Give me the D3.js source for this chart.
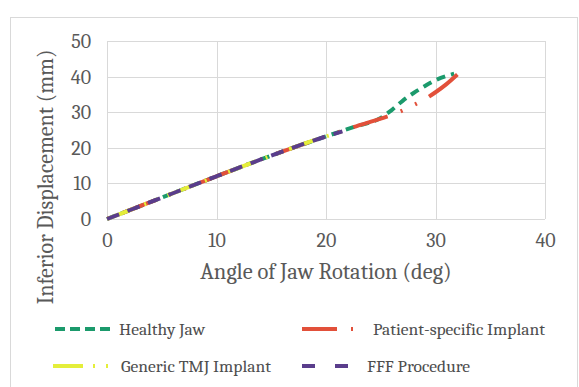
<!DOCTYPE html>
<html>
<head>
<meta charset="utf-8">
<script src="https://cdn.jsdelivr.net/npm/d3@7"></script>
<style>
  html, body { margin: 0; padding: 0; background: #fff; }
  svg { display: block; }
</style>
</head>
<body>
<svg id="chart" width="579" height="387"></svg>
<script>
// series data: [angle deg, displacement mm]
const healthyJaw = [[0, 0], [5, 6], [10, 12], [15, 17.8], [20, 23.2], [22.5, 25.8], [25, 28.4],
  [26, 30.6], [27, 33.2], [28, 35.4], [29, 37.3], [30, 39], [31, 40.2], [31.7, 40.8]];
const patientImplant = [[0, 0], [5, 6], [10, 12], [15, 17.8], [20, 23.2], [22.5, 25.8], [25, 28.2],
  [26, 29.2], [27, 30.5], [28, 32], [29, 33.6], [30, 35.6], [31, 37.9], [32, 40.6]];
const genericImplant = [[0, 0], [5, 6], [10, 12], [15, 17.8], [20, 23.2], [21.5, 24.6]];
const fffProcedure = [[0, 0], [5, 6], [10, 12], [15, 17.8], [20, 23.2], [21.5, 24.6]];

const xTicks = [0, 10, 20, 30, 40];
const yTicks = [0, 10, 20, 30, 40, 50];

const seriesNames = ['Healthy Jaw', 'Patient-specific Implant', 'Generic TMJ Implant', 'FFF Procedure'];
const seriesData = [healthyJaw, patientImplant, genericImplant, fffProcedure];
const seriesColors = ['#1b9a6c', '#e2503a', '#e4ee3a', '#5a3d8c'];
const seriesDash = ['10,5', '35,14,2,14', '30,10,2,11,2,10', '13,20'];
const plotDash = ['9,6', '36,14,2,14,2,14', '30,10,2,11,2,10', '13,9'];

const font = '"Cambria", "Liberation Serif", monospace';
const textColor = '#595959';
const svg = d3.select('#chart');

// outer chart frame
svg.append('rect')
  .attr('x', 10.5).attr('y', 17.5)
  .attr('width', 567).attr('height', 372)
  .attr('fill', 'none').attr('stroke', '#d9d9d9');

const x = d3.scaleLinear().domain([0, 40]).range([107, 545]);
const y = d3.scaleLinear().domain([0, 50]).range([219, 41]);

// gridlines
svg.append('g').selectAll('line').data(yTicks).join('line')
  .attr('x1', x(0)).attr('x2', x(40))
  .attr('y1', d => Math.round(y(d)) + 0.5).attr('y2', d => Math.round(y(d)) + 0.5)
  .attr('stroke', '#d9d9d9');
svg.append('g').selectAll('line').data(xTicks).join('line')
  .attr('y1', y(0)).attr('y2', y(50))
  .attr('x1', d => Math.round(x(d)) + 0.5).attr('x2', d => Math.round(x(d)) + 0.5)
  .attr('stroke', '#d9d9d9');

// axes, Excel style: labels only
const xAxis = svg.append('g').attr('transform', `translate(0,${y(0)})`)
  .call(d3.axisBottom(x).tickValues(xTicks).tickSize(0).tickPadding(14));
const yAxis = svg.append('g').attr('transform', `translate(${x(0)},0)`)
  .call(d3.axisLeft(y).tickValues(yTicks).tickSize(0).tickPadding(16));
[xAxis, yAxis].forEach(a => {
  a.select('.domain').remove();
  a.selectAll('text').attr('fill', textColor)
    .style('font-family', font).style('font-size', '20px');
});

// axis titles
svg.append('text')
  .attr('x', 326).attr('y', 279)
  .attr('text-anchor', 'middle').attr('fill', textColor)
  .style('font-family', font).style('font-size', '22.5px')
  .text('Angle of Jaw Rotation (deg)');
svg.append('text')
  .attr('transform', 'translate(53,177) rotate(-90)')
  .attr('text-anchor', 'middle').attr('fill', textColor)
  .style('font-family', font).style('font-size', '22px')
  .text('Inferior Displacement (mm)');

// series lines
const line = d3.line().x(d => x(d[0])).y(d => y(d[1])).curve(d3.curveMonotoneX);
const paths = svg.append('g').selectAll('path').data(seriesData).join('path')
  .attr('d', line)
  .attr('fill', 'none')
  .attr('stroke', (d, i) => seriesColors[i])
  .attr('stroke-width', 4)
  .attr('stroke-dasharray', (d, i) => plotDash[i]);

// let the patient-specific curve finish on a full dash, as in the original
const redPath = paths.filter((d, i) => i === 1).node();
const redLen = redPath.getTotalLength();
const redPeriod = d3.sum(plotDash[1].split(',').map(Number));
redPath.setAttribute('stroke-dashoffset', (((36 - redLen) % redPeriod) + redPeriod) % redPeriod);

// legend
const legendPos = [[55, 329], [302, 329], [53, 366], [302, 366]];
const legendLen = [60, 55, 57, 47];
const legendTextX = [119, 373, 121, 367];
const lg = svg.append('g').selectAll('g').data(seriesNames).join('g');
lg.append('line')
  .attr('x1', (d, i) => legendPos[i][0]).attr('x2', (d, i) => legendPos[i][0] + legendLen[i])
  .attr('y1', (d, i) => legendPos[i][1]).attr('y2', (d, i) => legendPos[i][1])
  .attr('stroke', (d, i) => seriesColors[i])
  .attr('stroke-width', 4)
  .attr('stroke-dasharray', (d, i) => seriesDash[i]);
lg.append('text')
  .attr('x', (d, i) => legendTextX[i])
  .attr('y', (d, i) => legendPos[i][1] + 6)
  .attr('fill', '#4d4d4d')
  .style('font-family', font).style('font-size', '17.5px')
  .text(d => d);
</script>
</body>
</html>
